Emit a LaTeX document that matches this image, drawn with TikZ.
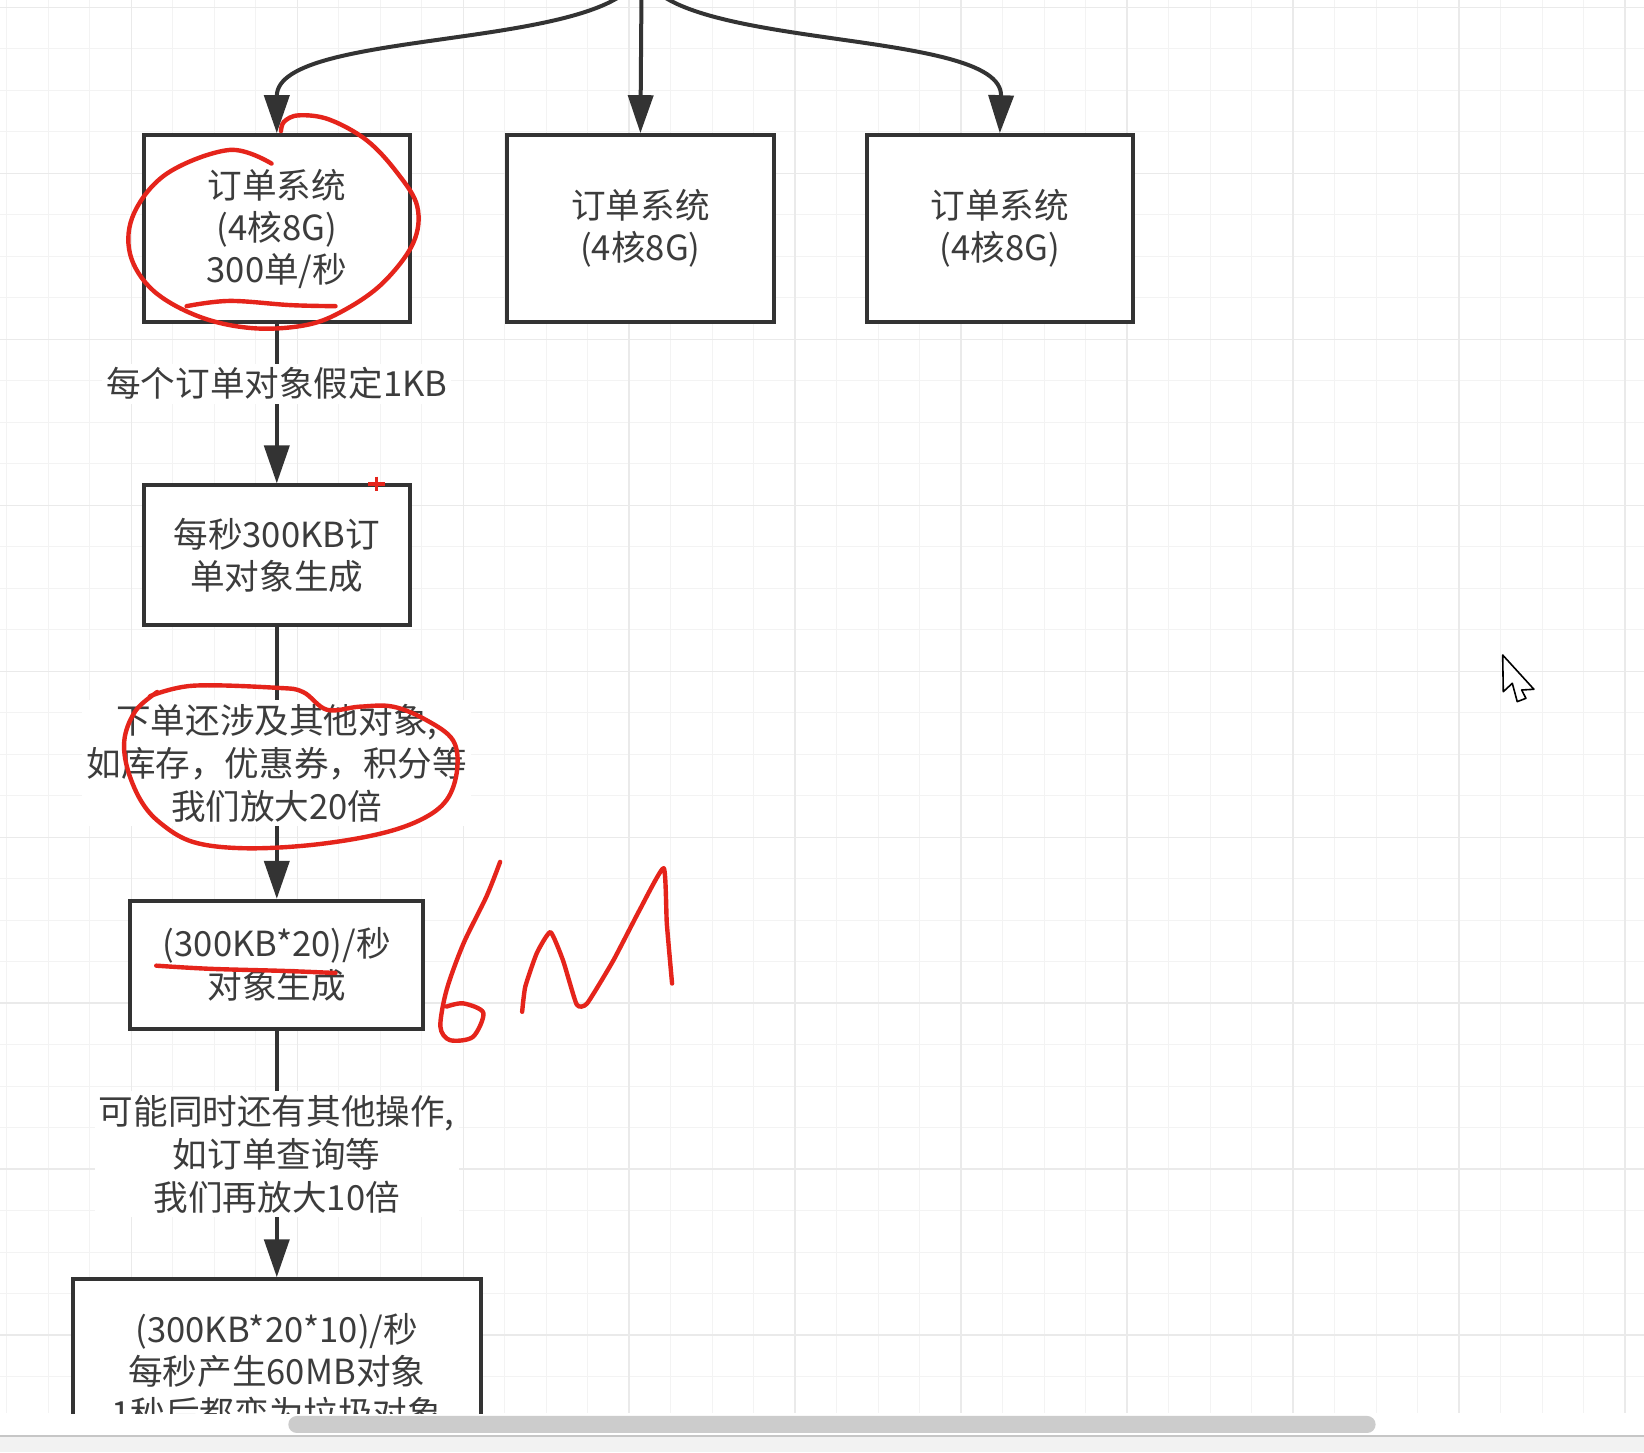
\documentclass[tikz,border=0pt]{standalone}
\usepackage{fontspec}
\usepackage{xcolor}
\usepackage{tikz}
\newfontfamily\cjk{Noto Sans CJK SC}
\definecolor{inkgray}{HTML}{333333}
\definecolor{txtgray}{HTML}{3C3C3C}
\definecolor{penred}{HTML}{E5241B}
\definecolor{gridlight}{HTML}{F3F3F3}
\definecolor{gridmajor}{HTML}{EAEAEA}
\definecolor{bargray}{HTML}{CCCCCC}
\definecolor{bandgray}{HTML}{F2F2F2}
\usetikzlibrary{arrows.meta, positioning}

\begin{document}
\begin{tikzpicture}[
        x=0.5242pt, y=-0.5242pt,
        node distance=46.6pt,
        sysbox/.style={rectangle, draw=inkgray, line width=2pt, fill=white, text=txtgray, minimum width=133.2pt, minimum height=93.4pt, inner sep=0pt, align=center, font=\cjk\fontsize{17.3pt}{21pt}\selectfont},
        flowlabel/.style={fill=white, text=txtgray, inner sep=2pt, align=center, font=\cjk\fontsize{17.3pt}{21.5pt}\selectfont},
        flowarrow/.style={draw=inkgray, line width=2pt, -{Triangle[length=19pt, width=12.5pt]}},
        pen/.style={draw=penred, line width=2.2pt, line cap=round, line join=round},
        minorline/.style={draw=gridlight, line width=0.6pt},
        majorline/.style={draw=gridmajor, line width=0.7pt}
    ]
        \useasboundingbox (0,0) rectangle (1568,1385);
        \fill[white] (0,0) rectangle (1568,1385);

        \begin{scope}
        \clip (0,0) rectangle (1568,1348);
        \foreach \k in {0,...,39} {\draw[minorline] ({6.5+39.58*\k},0) -- ({6.5+39.58*\k},1348);}
        \foreach \k in {0,...,33} {\draw[minorline] (0,{7+39.58*\k}) -- (1568,{7+39.58*\k});}
        \foreach \k in {0,...,9} {\draw[majorline] ({125.2+158.3*\k},0) -- ({125.2+158.3*\k},1348);}
        \foreach \k in {0,...,8} {\draw[majorline] (0,{7+158.3*\k}) -- (1568,{7+158.3*\k});}

        \node[sysbox] (sys1) at (264,218) {订单系统\\(4核8G)\\300单/秒};
        \node[sysbox, right=of sys1] (sys2) {订单系统\\(4核8G)};
        \node[sysbox, right=44.5pt of sys2] (sys3) {订单系统\\(4核8G)};
        \node[sysbox, minimum height=70pt, below=79.7pt of sys1] (perkb) {每秒300KB订\\单对象生成};
        \node[sysbox, minimum width=146.3pt, minimum height=64pt, below=135.7pt of perkb] (times20) {(300KB*20)/秒\\对象生成};
        \node[sysbox, minimum width=204pt, minimum height=92.3pt, below=123.2pt of times20] (times200) {(300KB*20*10)/秒\\每秒产生60MB对象\\1秒后都变为垃圾对象};

        \coordinate (lb) at (612,-30);
        \draw[flowarrow] (lb) .. controls (598,50) and (264,25) .. (sys1.north);
        \draw[flowarrow] (lb) -- (sys2.north);
        \draw[flowarrow] (lb) .. controls (626,50) and (957,25) .. (sys3.north);
        \draw[flowarrow] (sys1) -- node[flowlabel, pos=0.374] {每个订单对象假定1KB} (perkb);
        \draw[flowarrow] (perkb) -- node[flowlabel] {下单还涉及其他对象,\\如库存，优惠券，积分等\\我们放大20倍} (times20);
        \draw[flowarrow] (times20) -- node[flowlabel] {可能同时还有其他操作,\\如订单查询等\\我们再放大10倍} (times200);

        \draw[pen] plot[smooth, tension=0.6] coordinates {(259,156) (219,143) (160,165) (128,203) (124,242) (146,277) (190,302) (241,313) (292,310) (328,296) (365,270) (394,232) (398,197) (379,165) (350,134) (314,114) (285,110) (271,116) (268,125)};
        \draw[pen] plot[smooth, tension=0.6] coordinates {(178,292) (219,287) (277,291) (320,292)};
        \draw[pen] plot[smooth, tension=0.6] coordinates {(143,664) (184,654) (264,656) (289,660) (312,677) (343,674) (375,674) (407,687) (432,706) (436,734) (426,763) (401,782) (359,796) (296,806) (232,809) (184,803) (153,785) (134,763) (121,731) (119,703) (130,677) (150,660)};
        \draw[pen] plot[smooth, tension=0.6] coordinates {(149,921) (200,924) (270,926) (320,928)};
        \draw[pen] plot[smooth, tension=0.5] coordinates {(477,822) (464,855) (442,900) (426,944) (420,979) (429,992) (451,989) (461,966) (442,957) (426,960)};
        \draw[pen] plot[smooth, tension=0.3] coordinates {(498,965) (501,941) (512,909) (525,889) (537,916) (550,958) (560,957) (585,916) (610,868) (633,828) (636,881) (641,938)};
        \draw[penred, line width=1.6pt] (351,461.6) -- (367,461.6) (359.3,454.6) -- (359.3,468.6);
        \end{scope}

        \draw[black, fill=white, line width=0.8pt, line join=round] (1433.2,624.7) -- (1433.8,659.7) -- (1442.4,651.7) -- (1447.1,669.2) -- (1455.4,666.0) -- (1451.3,658.1) -- (1463.0,657.4) -- cycle;

        \fill[bargray, rounded corners=4.2pt] (275,1350.5) rectangle (1312,1366.7);
        \fill[bandgray] (0,1370) rectangle (1568,1385);
        \draw[gray!45, line width=0.6pt] (0,1369.6) -- (1568,1369.6);
    \end{tikzpicture}
\end{document}
